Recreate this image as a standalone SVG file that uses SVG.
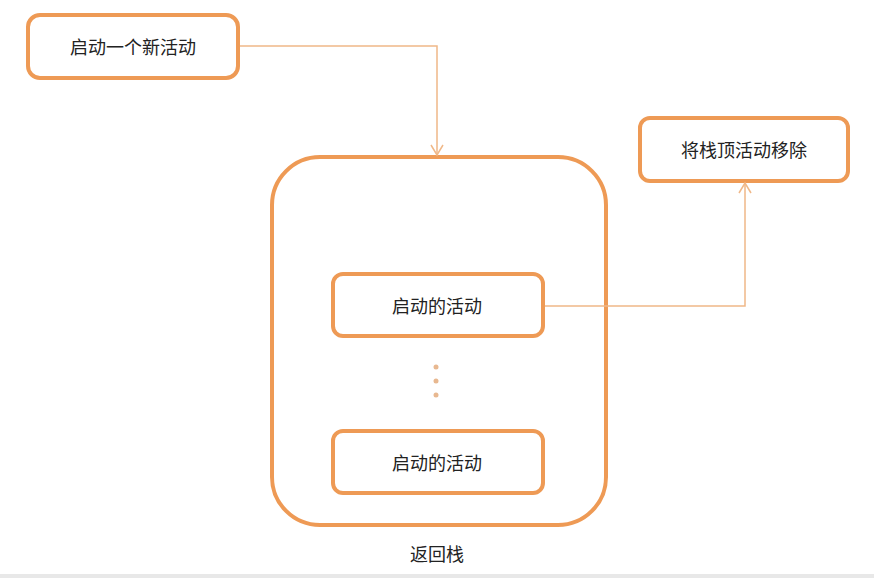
<svg xmlns="http://www.w3.org/2000/svg" width="874" height="578" viewBox="0 0 874 578">
<style>
.box{fill:#fff;stroke:#ee9a55;stroke-width:4}
.t{font-family:"Noto Sans CJK SC","Liberation Sans",sans-serif;font-size:18px;fill:#222;text-anchor:middle;dominant-baseline:central}
.c{fill:none;stroke:#f0b888;stroke-width:1.5}
</style>
<defs><marker id="a" markerWidth="14" markerHeight="14" refX="12" refY="7" orient="auto" markerUnits="userSpaceOnUse" viewBox="0 0 14 14"><path d="M2,1 L12,7 L2,13" fill="none" stroke="#f0b888" stroke-width="1.5"/></marker></defs>
<rect width="874" height="578" fill="#fff"/>
<rect x="0" y="574" width="874" height="4" fill="#e8e8e8"/>
<g id="start"><rect class="box" x="28" y="15" width="210" height="63" rx="12"/><text class="t" x="133" y="46">启动一个新活动</text></g>
<g id="stack"><rect class="box" x="272" y="157" width="334" height="368" rx="48"/><text class="t" x="437" y="553">返回栈</text>
<circle cx="436" cy="367" r="2.5" fill="#e8b890"/><circle cx="436" cy="381" r="2.5" fill="#e8b890"/><circle cx="436" cy="395" r="2.5" fill="#e8b890"/></g>
<g id="top"><rect class="box" x="333" y="274" width="210" height="62" rx="10"/><text class="t" x="437" y="305">启动的活动</text></g>
<g id="bottom"><rect class="box" x="333" y="431" width="210" height="62" rx="10"/><text class="t" x="437" y="462">启动的活动</text></g>
<g id="remove"><rect class="box" x="640" y="118" width="208" height="63" rx="10"/><text class="t" x="744" y="149">将栈顶活动移除</text></g>
<g id="connectors">
<path class="c" d="M240,46 H437 V155" marker-end="url(#a)"/>
<path class="c" d="M545,306 H745 V183" marker-end="url(#a)"/>
</g>
</svg>
